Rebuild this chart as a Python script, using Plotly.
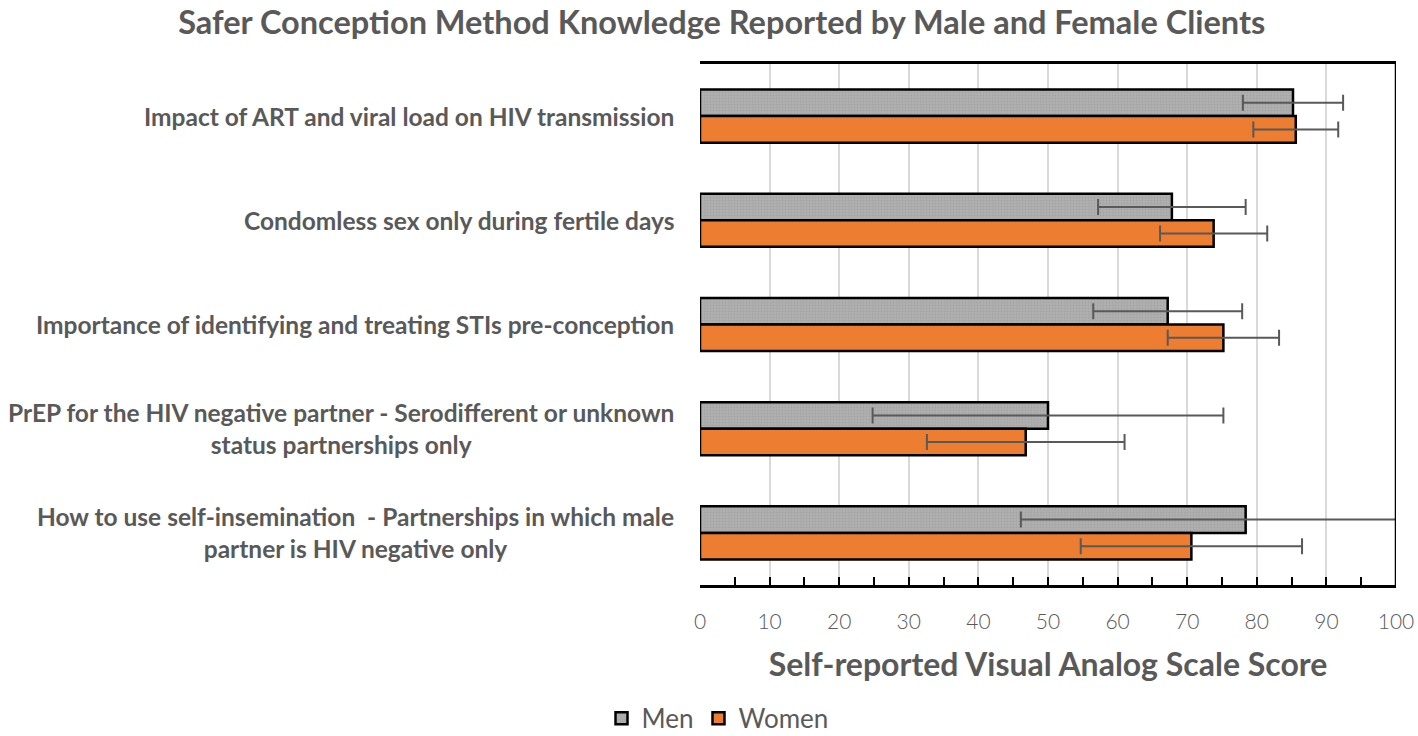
import plotly.graph_objects as go

# values
CATEGORIES = [
    "Impact of ART and viral load on HIV transmission",
    "Condomless sex only during fertile days",
    "Importance of identifying and treating STIs pre-conception",
    "PrEP for the HIV negative partner - Serodifferent or unknown<br>status partnerships only",
    "How to use self-insemination  - Partnerships in which male<br>partner is HIV negative only",
]
MEN_SCORE = [85.2, 67.8, 67.2, 50.0, 78.4]
MEN_ERR = [7.2, 10.6, 10.7, 25.2, 32.3]
WOMEN_SCORE = [85.6, 73.8, 75.2, 46.8, 70.6]
WOMEN_ERR = [6.1, 7.7, 8.0, 14.2, 15.9]
X_TICKS = list(range(0, 101, 10))

FONT = "Lato"
TEXT_GREY = "#595959"
MEN_COLOR = "#A6A6A6"
WOMEN_COLOR = "#ED7D31"


def error_style(values):
    return dict(
        type="data", array=values, visible=True,
        color="#595959", thickness=2, width=8,
    )


fig = go.Figure()
fig.add_trace(
    go.Bar(
        y=CATEGORIES, x=MEN_SCORE, orientation="h", name="Men",
        marker=dict(
            color=MEN_COLOR,
            line=dict(color="black", width=2.5),
            pattern=dict(shape=".", size=3, fgcolor="#959595", bgcolor="#B0B0B0", solidity=0.3),
        ),
        error_x=error_style(MEN_ERR),
    )
)
fig.add_trace(
    go.Bar(
        y=CATEGORIES, x=WOMEN_SCORE, orientation="h", name="Women",
        marker=dict(color=WOMEN_COLOR, line=dict(color="black", width=2.5)),
        error_x=error_style(WOMEN_ERR),
    )
)

# category labels as annotations so the wrapped lines are centred
for cat in CATEGORIES:
    fig.add_annotation(
        text=cat, xref="paper", yref="y", x=-0.035, y=cat,
        xanchor="right", yanchor="middle", align="center", showarrow=False,
        font=dict(family=FONT, size=24.5, color=TEXT_GREY, weight="bold"),
    )

# right frame line
fig.add_shape(
    type="line", xref="x", yref="paper", x0=100, x1=100, y0=0, y1=1,
    line=dict(color="black", width=2.5),
)

fig.update_layout(
    width=1418, height=736,
    paper_bgcolor="white", plot_bgcolor="white",
    barmode="group", bargap=0.49, bargroupgap=0,
    margin=dict(l=700, r=22, t=64, b=151, autoexpand=False),
    title=dict(
        text="Safer Conception Method Knowledge Reported by Male and Female Clients",
        x=0.509, xanchor="center", y=0.969, yanchor="middle",
        font=dict(family=FONT, size=32.5, color=TEXT_GREY, weight="bold"),
    ),
    legend=dict(
        orientation="h", xref="container", yref="container",
        x=0.506, y=0.024, xanchor="center", yanchor="middle",
        font=dict(family=FONT, size=26, color=TEXT_GREY),
        traceorder="normal",
    ),
    showlegend=True,
)
fig.update_xaxes(
    range=[0, 100], tickvals=X_TICKS, ticktext=[str(v) for v in X_TICKS],
    showgrid=True, gridcolor="#D9D9D9", gridwidth=2,
    showline=True, linecolor="black", linewidth=2.5, mirror=True,
    ticks="inside", ticklen=8, tickwidth=2, tickcolor="black",
    minor=dict(dtick=5, ticks="inside", ticklen=8, tickwidth=2, tickcolor="black", showgrid=False),
    tickfont=dict(family=FONT, size=21, color=TEXT_GREY, weight=300),
    ticklabelstandoff=16,
    zeroline=False, automargin=False,
    title=dict(
        text="Self-reported Visual Analog Scale Score", standoff=22,
        font=dict(family=FONT, size=32, color=TEXT_GREY, weight="bold"),
    ),
)
fig.update_yaxes(
    autorange="reversed", showticklabels=False, ticks="",
    showline=False, showgrid=False, zeroline=False, automargin=False,
)

# the page body has a default 8px margin; remove it so the figure fills the window
fig.write_html(
    "out.html",
    config={"displayModeBar": False},
    post_script="document.body.style.margin = '0';",
)
